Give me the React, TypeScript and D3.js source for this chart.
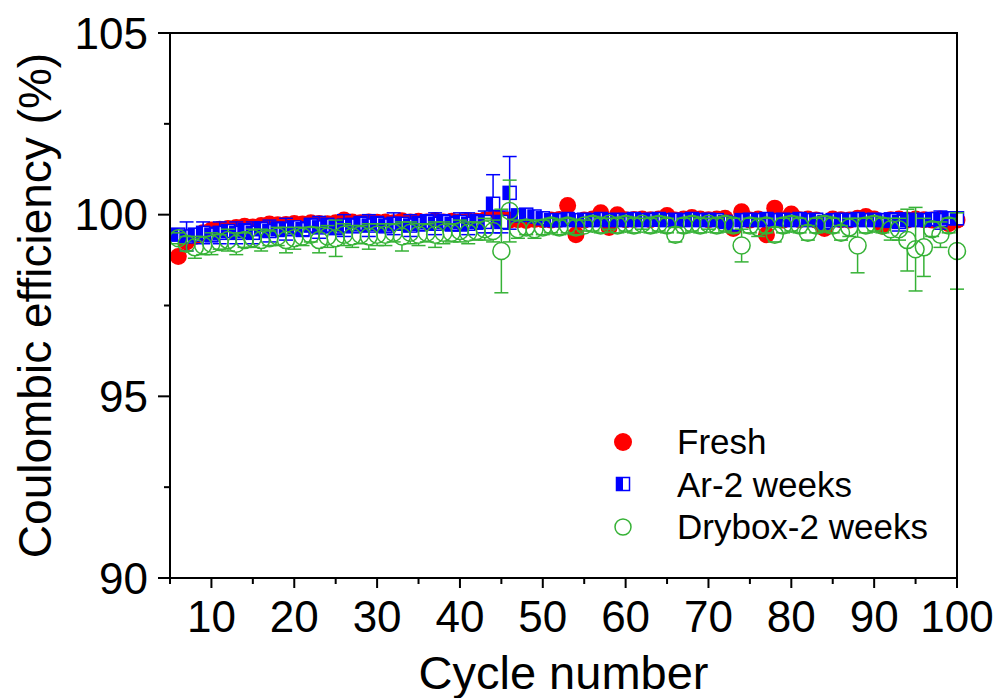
import React from "react";
import * as d3 from "d3";

const cycles: number[] = d3.range(6, 101);

const freshValues: number[] = [
  98.85, 99.25, 99.4, 99.5, 99.58, 99.6, 99.62, 99.65, 99.68, 99.66,
  99.7, 99.74, 99.72, 99.73, 99.76, 99.74, 99.78, 99.76, 99.75, 99.78,
  99.85, 99.8, 99.78, 99.8, 99.79, 99.8, 99.78, 99.83, 99.8, 99.82,
  99.8, 99.84, 99.8, 99.82, 99.8, 99.83, 99.82, 99.85, 99.9, 99.88,
  99.85, 99.86, 99.84, 99.87, 99.86, 99.85, 99.87, 100.25, 99.45, 99.85,
  99.88, 100.05, 99.65, 100.0, 99.86, 99.87, 99.88, 99.86, 99.88, 99.98,
  99.85, 99.88, 99.92, 99.88, 99.86, 99.88, 99.9, 99.62, 100.08, 99.85,
  99.88, 99.45, 100.18, 99.85, 100.02, 99.86, 99.88, 99.85, 99.62, 99.88,
  99.86, 99.85, 99.9, 99.95, 99.88, 99.68, 99.86, 99.88, 99.85, 99.88,
  99.86, 99.85, 99.88, 99.75, 99.85,
];

const arValues: number[] = [
  99.45, 99.4, 99.45, 99.5, 99.45, 99.5, 99.55, 99.5, 99.55, 99.5,
  99.6, 99.55, 99.6, 99.6, 99.65, 99.6, 99.7, 99.65, 99.7, 99.65,
  99.7, 99.7, 99.75, 99.7, 99.75, 99.7, 99.75, 99.75, 99.7, 99.75,
  99.8, 99.75, 99.8, 99.75, 99.8, 99.75, 99.8, 99.8, 100.3, 99.8,
  100.6, 99.98, 100.0, 99.95, 99.9, 99.85, 99.85, 99.88, 99.85, 99.86,
  99.85, 99.88, 99.85, 99.86, 99.85, 99.88, 99.85, 99.86, 99.88, 99.85,
  99.86, 99.85, 99.88, 99.85, 99.86, 99.85, 99.8, 99.75, 99.85, 99.86,
  99.85, 99.88, 99.85, 99.86, 99.85, 99.88, 99.85, 99.86, 99.8, 99.85,
  99.86, 99.85, 99.88, 99.85, 99.86, 99.85, 99.85, 99.8, 99.85, 99.86,
  99.85, 99.88, 99.85, 99.9, 99.9,
];

const arErrors: number[] = [
  0.1, 0.4, 0.15, 0.3, 0.2, 0.3, 0.15, 0.3, 0.2, 0.3,
  0.2, 0.3, 0.2, 0.3, 0.15, 0.2, 0.2, 0.3, 0.2, 0.2,
  0.3, 0.2, 0.2, 0.3, 0.2, 0.2, 0.3, 0.15, 0.3, 0.2,
  0.2, 0.3, 0.2, 0.2, 0.25, 0.3, 0.2, 0.3, 0.8, 0.3,
  1.0, 0.1, 0.1, 0.1, 0.1, 0.15, 0.12, 0.1, 0.15, 0.1,
  0.12, 0.1, 0.15, 0.1, 0.12, 0.1, 0.15, 0.1, 0.12, 0.1,
  0.15, 0.1, 0.12, 0.1, 0.15, 0.1, 0.15, 0.2, 0.1, 0.12,
  0.1, 0.15, 0.1, 0.12, 0.1, 0.15, 0.1, 0.12, 0.2, 0.1,
  0.12, 0.1, 0.15, 0.1, 0.12, 0.1, 0.2, 0.25, 0.1, 0.12,
  0.1, 0.15, 0.25, 0.1, 0.12,
];

const dryValues: number[] = [
  99.35, 99.2, 99.1, 99.15, 99.2, 99.25, 99.3, 99.2, 99.3, 99.35,
  99.3, 99.35, 99.4, 99.3, 99.35, 99.4, 99.45, 99.3, 99.4, 99.35,
  99.45, 99.4, 99.45, 99.4, 99.45, 99.45, 99.5, 99.4, 99.5, 99.45,
  99.5, 99.45, 99.5, 99.5, 99.55, 99.5, 99.55, 99.6, 99.55, 99.0,
  100.1, 99.6, 99.65, 99.6, 99.65, 99.7, 99.65, 99.7, 99.65, 99.7,
  99.75, 99.7, 99.75, 99.7, 99.75, 99.7, 99.75, 99.7, 99.75, 99.7,
  99.45, 99.7, 99.75, 99.7, 99.75, 99.7, 99.75, 99.7, 99.15, 99.7,
  99.65, 99.7, 99.45, 99.7, 99.75, 99.7, 99.5, 99.7, 99.75, 99.7,
  99.5, 99.65, 99.15, 99.7, 99.75, 99.7, 99.6, 99.6, 99.3, 99.05,
  99.1, 99.6, 99.45, 99.7, 99.0,
];

const dryErrors: number[] = [
  0.15, 0.2, 0.3, 0.25, 0.3, 0.2, 0.3, 0.3, 0.2, 0.25,
  0.3, 0.2, 0.25, 0.35, 0.3, 0.25, 0.2, 0.35, 0.3, 0.5,
  0.3, 0.3, 0.25, 0.35, 0.3, 0.3, 0.25, 0.4, 0.3, 0.3,
  0.25, 0.35, 0.3, 0.25, 0.3, 0.3, 0.25, 0.3, 0.3, 1.15,
  0.85, 0.25, 0.2, 0.25, 0.2, 0.2, 0.2, 0.2, 0.2, 0.15,
  0.2, 0.2, 0.15, 0.2, 0.2, 0.2, 0.15, 0.2, 0.2, 0.2,
  0.2, 0.2, 0.2, 0.2, 0.15, 0.2, 0.2, 0.2, 0.45, 0.2,
  0.25, 0.2, 0.2, 0.2, 0.2, 0.2, 0.2, 0.2, 0.2, 0.2,
  0.2, 0.25, 0.75, 0.2, 0.2, 0.2, 0.3, 0.3, 0.85, 1.15,
  0.8, 0.2, 0.35, 0.2, 1.05,
];

const xTicks: number[] = [10, 20, 30, 40, 50, 60, 70, 80, 90, 100];
const xMinorTicks: number[] = [5, 15, 25, 35, 45, 55, 65, 75, 85, 95];
const yTicks: number[] = [90, 95, 100, 105];
const yMinorTicks: number[] = [92.5, 97.5, 102.5];
const legendLabels: string[] = ["Fresh", "Ar-2 weeks", "Drybox-2 weeks"];

const RED = "#FF0000";
const BLUE = "#0000FF";
const GREEN = "#36B236";
const FONT = "Arial, 'Liberation Sans', sans-serif";

export default function App() {
  const left = 170, right = 957, top = 33, bottom = 578;
  const x = d3.scaleLinear().domain([5, 100]).range([left, right]);
  const y = d3.scaleLinear().domain([90, 105]).range([bottom, top]);

  const sq = 13;
  const rC = 8.5;

  const errBar = (cx: number, v: number, e: number, gap: number, color: string, key: string, sw = 1.5) => {
    const yt = y(v + e), yb = y(v - e), yc = y(v);
    const cap = 7;
    return (
      <g key={key} stroke={color} strokeWidth={sw}>
        {yc - gap > yt && <line x1={cx} x2={cx} y1={yt} y2={yc - gap} />}
        {yc + gap < yb && <line x1={cx} x2={cx} y1={yc + gap} y2={yb} />}
        <line x1={cx - cap} x2={cx + cap} y1={yt} y2={yt} />
        <line x1={cx - cap} x2={cx + cap} y1={yb} y2={yb} />
      </g>
    );
  };

  const halfSquare = (cx: number, cy: number, key: string) => (
    <g key={key}>
      <rect x={cx - sq / 2} y={cy - sq / 2} width={sq} height={sq} fill="#fff" stroke={BLUE} strokeWidth={1.5} />
      <rect x={cx - sq / 2} y={cy - sq / 2} width={sq / 2} height={sq} fill={BLUE} />
    </g>
  );

  return (
    <svg width={1001} height={698} style={{ position: "absolute", left: 0, top: 0, background: "#fff" }} fontFamily={FONT}>
      <rect x={0} y={0} width={1001} height={698} fill="#fff" />
      {/* Fresh */}
      <g>
        {cycles.map((c, i) => (
          <circle key={"f" + i} cx={x(c)} cy={y(freshValues[i])} r={8.5} fill={RED} />
        ))}
      </g>
      {/* Ar-2 weeks */}
      <g>
        {cycles.map((c, i) => errBar(x(c), arValues[i], arErrors[i], sq / 2, BLUE, "ae" + i))}
        {cycles.map((c, i) => halfSquare(x(c), y(arValues[i]), "as" + i))}
      </g>
      {/* Drybox-2 weeks */}
      <g>
        {cycles.map((c, i) => errBar(x(c), dryValues[i], dryErrors[i], rC, GREEN, "de" + i))}
        {cycles.map((c, i) => (
          <circle key={"dc" + i} cx={x(c)} cy={y(dryValues[i])} r={rC} fill="none" stroke={GREEN} strokeWidth={1.5} />
        ))}
      </g>

      {/* frame */}
      <rect x={left} y={top} width={right - left} height={bottom - top} fill="none" stroke="#000" strokeWidth={2} />

      {/* y ticks */}
      {yTicks.map((t) => (
        <g key={"yt" + t}>
          <line x1={left - 12} x2={left} y1={y(t)} y2={y(t)} stroke="#000" strokeWidth={2} />
          <text x={148} y={y(t) + 15.5} textAnchor="end" fontSize={44}>{t}</text>
        </g>
      ))}
      {yMinorTicks.map((t) => (
        <line key={"ym" + t} x1={left - 6} x2={left} y1={y(t)} y2={y(t)} stroke="#000" strokeWidth={2} />
      ))}

      {/* x ticks */}
      {xTicks.map((t) => (
        <g key={"xt" + t}>
          <line x1={x(t)} x2={x(t)} y1={bottom} y2={bottom + 10} stroke="#000" strokeWidth={2} />
          <text x={x(t)} y={632} textAnchor="middle" fontSize={44}>{t}</text>
        </g>
      ))}
      {xMinorTicks.map((t) => (
        <line key={"xm" + t} x1={x(t)} x2={x(t)} y1={bottom} y2={bottom + 6} stroke="#000" strokeWidth={2} />
      ))}

      {/* axis titles */}
      <text x={(left + right) / 2} y={689} textAnchor="middle" fontSize={47}>Cycle number</text>
      <text transform={`translate(51, ${(top + bottom) / 2}) rotate(-90)`} textAnchor="middle" fontSize={46}>
        Coulombic efficiency (%)
      </text>

      {/* legend */}
      <g>
        <circle cx={623} cy={442} r={9} fill={RED} />
        {halfSquare(623, 484, "leg-sq")}
        <circle cx={623} cy={527} r={8} fill="none" stroke={GREEN} strokeWidth={1.5} />
        <text x={677} y={454} fontSize={35}>{legendLabels[0]}</text>
        <text x={677} y={497} fontSize={35}>{legendLabels[1]}</text>
        <text x={677} y={539} fontSize={35}>{legendLabels[2]}</text>
      </g>
    </svg>
  );
}
